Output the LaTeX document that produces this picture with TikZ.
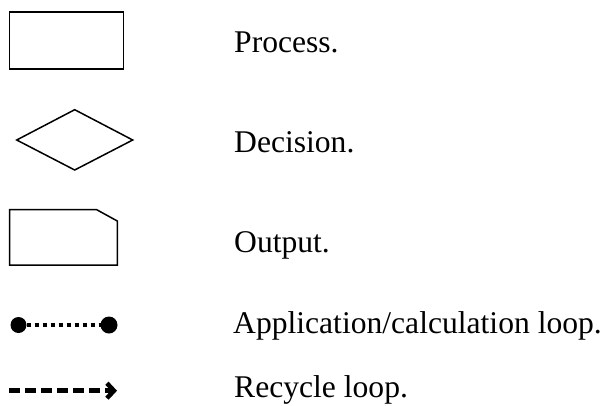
\documentclass[tikz,border=0pt]{standalone}
\usepackage{fontspec}
\setmainfont{Liberation Serif}
\usetikzlibrary{arrows.meta}
\begin{document}
\begin{tikzpicture}[x=1pt,y=-1pt,
  shapeline/.style={draw=black,line width=1.5pt,line join=miter},
  label/.style={anchor=base west,inner sep=0pt,font=\fontsize{31.6}{36}\selectfont},
  calcloop/.style={line width=4.5pt,dash pattern=on 4.5pt off 3.5pt},
  dotend/.style={fill=black},
  recycle/.style={line width=4.5pt,dash pattern=on 11pt off 5pt,-{Straight Barb[length=7pt,width=15pt,line width=4.5pt]}}]
\useasboundingbox (0,0) rectangle (605,405);
% Process
\draw[shapeline] (9.5,12) rectangle (123.5,69);
\node[label] (tproc) at (234,52) {Process.};
% Decision
\draw[shapeline] (16.7,140) -- (74.7,109.7) -- (132.7,140) -- (74.7,170) -- cycle;
\node[label] (tdec) at (234,152) {Decision.};
% Output
\draw[shapeline] (9.5,209.7) -- (96.7,209.7) -- (117.3,221) -- (117.3,265) -- (9.5,265) -- cycle;
\node[label] (tout) at (234,252) {Output.};
% Application/calculation loop
\coordinate (la) at (18.5,325);
\coordinate (lb) at (109,325);
\draw[calcloop] (la) -- (lb);
\fill[dotend] (la) circle (8);
\fill[dotend] (lb) circle (8.5);
\node[label] (tapp) at (233,333) {Application/calculation loop.};
% Recycle loop
\coordinate (ra) at (9.3,390.7);
\coordinate (rb) at (117,390.7);
\draw[recycle] (ra) -- (rb);
\node[label] (trec) at (234,397.5) {Recycle loop.};
\end{tikzpicture}
\end{document}
